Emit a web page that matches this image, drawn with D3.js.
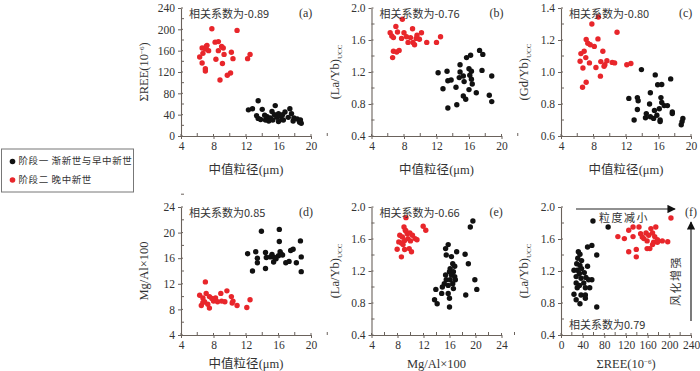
<!DOCTYPE html>
<html>
<head>
<meta charset="utf-8">
<script src="https://cdn.jsdelivr.net/npm/d3@7"></script>
<style>
  body { margin: 0; background: #fff; }
  svg { display: block; font-family: "Liberation Serif", "DejaVu Serif", serif; }
  .cjk { font-family: "Noto Sans CJK SC", sans-serif; }
</style>
</head>
<body>
<div id="chart"></div>
<script>
// ---- data ----
// (a) grain size (um) vs sum REE
var aRed = [[7.8,201],[10.9,198],[8.2,176],[8.6,177],[6.6,165],[7.2,170],[7.0,163],[7.4,160],[9.0,168],[9.2,165],
  [8.6,160],[6.3,148],[6.7,155],[9.3,153],[10.2,157],[8.3,144],[10.4,145],[12.5,153],[12.2,145],[6.6,137],
  [9.1,136],[7.0,126],[7.0,122],[10.1,118],[9.7,114],[8.8,105],[7.1,168]];
var aBlack = [[12.3,49],[12.8,51],[13.5,66],[14.0,50],[13.3,38],[13.5,33],[14.4,30],[14.6,36],[15.0,34],[14.8,28],
  [15.2,46],[15.6,57],[15.5,40],[15.8,35],[16.0,42],[16.2,38],[16.4,31],[16.0,27],[16.6,30],[16.8,45],
  [17.4,51],[17.6,42],[17.8,28],[17.9,34],[18.3,32],[18.6,26],[18.7,30],[18.8,24],[15.3,30],[16.5,40],
  [14.3,39],[13.8,31],[17.2,35]];
// (b) grain size vs (La/Yb)ucc
var bRed = [[7.8,1.86],[7.0,1.77],[6.3,1.69],[6.5,1.65],[7.2,1.70],[8.0,1.69],[9.05,1.74],[10.15,1.69],[8.3,1.64],
  [9.5,1.62],[9.9,1.61],[8.5,1.57],[9.1,1.57],[9.3,1.54],[10.8,1.57],[12.0,1.57],[12.5,1.64],[6.6,1.38],
  [6.7,1.46],[7.1,1.45],[7.4,1.47],[7.7,1.62],[8.8,1.63],[6.7,1.63],[9.6,1.66]];
var bBlack = [[12.2,1.19],[13.3,1.21],[13.4,1.09],[13.8,1.10],[12.8,0.99],[14.4,1.01],[13.4,0.75],[14.5,0.79],
  [14.9,1.29],[14.9,1.20],[14.8,1.13],[15.3,1.15],[15.4,1.08],[15.3,0.90],[15.6,0.86],[15.7,1.38],[16.2,1.41],
  [16.0,1.24],[16.3,1.21],[16.1,1.16],[16.3,1.11],[16.4,1.05],[16.0,0.98],[16.9,0.94],[17.3,1.47],[17.7,1.42],
  [17.6,1.22],[18.8,1.15],[18.5,0.91],[18.8,0.83]];
// (c) grain size vs (Gd/Yb)ucc
var cRed = [[8.6,1.344],[7.8,1.30],[10.9,1.248],[8.55,1.207],[7.1,1.203],[7.3,1.18],[7.6,1.17],[8.1,1.16],[6.85,1.13],
  [9.15,1.13],[6.45,1.115],[7.05,1.09],[6.35,1.067],[7.5,1.057],[8.9,1.065],[9.65,1.07],[10.3,1.06],[10.6,1.057],
  [9.3,1.036],[8.3,1.028],[6.7,1.025],[12.1,1.045],[12.6,1.053],[8.85,0.974],[7.1,0.936],[6.65,0.905],[9.4,1.045]];
var cBlack = [[13.9,1.015],[15.6,0.982],[16.4,0.922],[15.9,0.92],[17.5,0.957],[12.35,0.835],[13.4,0.84],[13.5,0.82],
  [13.4,0.766],[13.0,0.70],[15.0,0.87],[14.9,0.80],[16.3,0.84],[16.4,0.81],[16.7,0.79],[17.1,0.79],[14.5,0.74],
  [14.4,0.714],[15.0,0.72],[15.4,0.71],[15.5,0.76],[15.8,0.73],[16.1,0.77],[16.2,0.70],[16.2,0.69],[17.7,0.75],
  [17.7,0.74],[19.0,0.71],[18.9,0.69],[18.8,0.67]];
// (d) grain size vs Mg/Al x100
var dRed = [[7.0,12.3],[6.3,10.2],[8.9,10.5],[9.65,10.9],[7.1,10.5],[6.7,9.8],[7.5,10.0],[6.5,8.6],[6.9,9.2],
  [7.3,8.8],[7.5,8.2],[8.25,9.8],[8.0,9.3],[8.5,9.2],[9.0,9.3],[9.4,9.2],[10.2,10.0],[10.4,9.3],[10.3,9.0],
  [10.9,8.6],[12.1,8.3],[12.5,9.5],[7.8,9.7],[6.7,9.1]];
var dBlack = [[13.9,20.2],[16.1,20.5],[16.1,18.6],[18.7,18.7],[12.2,16.7],[13.2,17.0],[13.4,16.0],[13.4,15.3],
  [12.8,14.0],[14.4,16.9],[14.5,16.1],[14.4,14.4],[15.0,16.2],[15.2,16.6],[15.4,15.4],[15.7,15.9],[16.0,16.4],
  [16.2,17.0],[16.3,16.7],[16.5,16.5],[16.9,15.3],[17.3,15.5],[17.5,17.2],[17.8,17.4],[18.2,15.3],[18.8,16.2],
  [18.8,13.9],[15.5,16.1]];
// (e) Mg/Al x100 vs (La/Yb)ucc
var eRed = [[9.3,1.867],[9.0,1.75],[9.2,1.71],[11.95,1.76],[12.35,1.71],[8.35,1.647],[9.5,1.667],[9.9,1.675],
  [10.3,1.647],[10.7,1.605],[8.75,1.625],[8.2,1.564],[8.6,1.55],[9.6,1.605],[10.0,1.576],[11.0,1.59],[9.1,1.58],
  [7.95,1.472],[9.1,1.468],[9.8,1.48],[10.15,1.44],[8.6,1.377],[8.85,1.53],[9.3,1.70]];
var eBlack = [[19.6,1.825],[19.2,1.75],[15.8,1.53],[15.4,1.48],[17.1,1.44],[15.5,1.40],[16.3,1.38],[18.4,1.41],
  [18.9,1.29],[16.5,1.29],[16.8,1.26],[16.1,1.23],[16.0,1.19],[16.6,1.19],[15.4,1.15],[16.3,1.15],[16.8,1.13],
  [15.5,1.09],[16.1,1.09],[16.9,1.09],[15.8,1.02],[16.5,1.04],[14.9,1.0],[13.9,0.97],[14.8,0.92],[15.8,0.92],
  [16.0,0.86],[13.7,0.84],[14.1,0.79],[16.0,0.75],[19.9,1.09],[20.2,0.97],[18.5,0.90],[16.6,0.98],[15.2,1.04]];
// (f) sum REE vs (La/Yb)ucc
var fRed = [[203,1.863],[133,1.75],[144,1.75],[125,1.71],[166,1.73],[175,1.75],[105,1.63],[117,1.605],[147,1.667],
  [157,1.675],[162,1.647],[169,1.675],[173,1.63],[153,1.605],[178,1.59],[187,1.576],[171,1.56],[159,1.576],
  [197,1.565],[178,1.56],[125,1.44],[139,1.47],[159,1.48],[164,1.48],[169,1.53],[139,1.377],[150,1.625],[133,1.63]];
var fBlack = [[59,1.825],[87,1.75],[57,1.52],[49,1.50],[32,1.44],[35,1.41],[66,1.40],[31,1.36],[38,1.33],[29,1.29],
  [35,1.27],[49,1.26],[24,1.21],[30,1.21],[38,1.23],[43,1.18],[34,1.17],[28,1.13],[37,1.11],[46,1.12],[57,1.09],
  [51,1.09],[28,1.05],[34,1.02],[45,0.99],[53,0.99],[30,0.99],[24,0.91],[37,0.90],[45,0.90],[28,0.84],[45,0.86],
  [35,0.79],[66,0.75],[42,1.05]];

var corrLabels = ["相关系数为-0.89", "相关系数为-0.76", "相关系数为-0.80", "相关系数为0.85", "相关系数为-0.66", "相关系数为0.79"];
var panelTags = ["(a)", "(b)", "(c)", "(d)", "(e)", "(f)"];
var legendLabels = ["阶段一 渐新世与早中新世", "阶段二 晚中新世"];

var red = "#e8262b", black = "#111111", axisCol = "#6a625c", textCol = "#333";

var W = 700, H = 371;
var svg = d3.select("#chart").append("svg").attr("width", W).attr("height", H);

var colX = [181, 371.5, 561], rowY = [8, 207], pw = 130, ph = 128;

var panels = [
  {col:0,row:0, xd:[4,20], xs:4, xm:2, yd:[0,240], ys:40, ym:20, yf:d3.format("d"), xl:"grain", yl:"ree", red:aRed, black:aBlack},
  {col:1,row:0, xd:[4,20], xs:4, xm:2, yd:[0.4,2.0], ys:0.4, ym:0.2, yf:d3.format(".1f"), xl:"grain", yl:"layb", red:bRed, black:bBlack},
  {col:2,row:0, xd:[4,20], xs:4, xm:2, yd:[0.6,1.4], ys:0.2, ym:0.1, yf:d3.format(".1f"), xl:"grain", yl:"gdyb", red:cRed, black:cBlack},
  {col:0,row:1, xd:[4,20], xs:4, xm:2, yd:[4,24], ys:4, ym:2, yf:d3.format("d"), xl:"grain", yl:"mgal", red:dRed, black:dBlack},
  {col:1,row:1, xd:[4,24], xs:4, xm:2, yd:[0.4,2.0], ys:0.4, ym:0.2, yf:d3.format(".1f"), xl:"mgal", yl:"layb", red:eRed, black:eBlack},
  {col:2,row:1, xd:[0,240], xs:40, xm:20, yd:[0.4,2.0], ys:0.4, ym:0.2, yf:d3.format(".1f"), xl:"ree", yl:"layb", red:fRed, black:fBlack}
];

function steps(lo, hi, st) {
  var n = Math.round((hi - lo) / st), out = [];
  for (var i = 0; i <= n; i++) out.push(+(lo + i * st).toFixed(4));
  return out;
}

// axis title writer (handles sub/superscripts)
function writeLabel(t, kind) {
  if (kind == "grain") {
    t.append("tspan").attr("class", "cjk").text("中值粒径");
    t.append("tspan").text("(μm)");
  } else if (kind == "ree") {
    t.append("tspan").text("ΣREE(10");
    t.append("tspan").attr("font-size", "7px").attr("dy", "-4").text("−6");
    t.append("tspan").attr("dy", "4").text(")");
  } else if (kind == "layb" || kind == "gdyb") {
    t.append("tspan").text(kind == "layb" ? "(La/Yb)" : "(Gd/Yb)");
    t.append("tspan").attr("font-size", "7px").attr("dy", "3").text("UCC");
  } else if (kind == "mgal") {
    t.append("tspan").text("Mg/Al×100");
  }
}

panels.forEach(function(p, i) {
  var x0 = colX[p.col], y0 = rowY[p.row];
  var g = svg.append("g").attr("transform", "translate(" + x0 + "," + y0 + ")");
  var x = d3.scaleLinear().domain(p.xd).range([0, pw]);
  var y = d3.scaleLinear().domain(p.yd).range([ph, 0]);

  // x axis
  var gx = g.append("g").attr("transform", "translate(0," + ph + ")")
    .call(d3.axisBottom(x).tickValues(steps(p.xd[0], p.xd[1], p.xs)).tickSizeInner(3).tickSizeOuter(0).tickPadding(3));
  // y axis
  var gy = g.append("g")
    .call(d3.axisLeft(y).tickValues(steps(p.yd[0], p.yd[1], p.ys)).tickFormat(p.yf).tickSizeInner(3).tickSizeOuter(0).tickPadding(3));
  [gx, gy].forEach(function(a) {
    a.select(".domain").attr("stroke", axisCol).attr("stroke-width", 1.1);
    a.selectAll(".tick line").attr("stroke", axisCol);
    a.selectAll(".tick text").attr("fill", textCol).attr("font-size", "11.5px")
      .attr("font-family", "Liberation Serif, serif");
  });
  // major ticks poke slightly inside, minor ticks inside only
  g.selectAll(".majx").data(steps(p.xd[0], p.xd[1], p.xs)).enter().append("line")
    .attr("x1", d => x(d)).attr("x2", d => x(d)).attr("y1", ph).attr("y2", ph - 2).attr("stroke", axisCol);
  g.selectAll(".majy").data(steps(p.yd[0], p.yd[1], p.ys)).enter().append("line")
    .attr("y1", d => y(d)).attr("y2", d => y(d)).attr("x1", 0).attr("x2", 2).attr("stroke", axisCol);
  g.selectAll(".minx").data(steps(p.xd[0] + p.xm, p.xd[1], p.xs)).enter().append("line")
    .attr("x1", d => x(d)).attr("x2", d => x(d)).attr("y1", ph).attr("y2", ph - 3).attr("stroke", axisCol);
  g.selectAll(".miny").data(steps(p.yd[0] + p.ym, p.yd[1], p.ys)).enter().append("line")
    .attr("y1", d => y(d)).attr("y2", d => y(d)).attr("x1", 0).attr("x2", 3).attr("stroke", axisCol);

  // axis titles
  var xt = g.append("text").attr("x", pw / 2).attr("y", p.row == 0 ? ph + 38 : ph + 33)
    .attr("text-anchor", "middle").attr("font-size", "12.5px").attr("fill", textCol);
  writeLabel(xt, p.xl);
  var yt = g.append("text").attr("transform", "translate(-33," + (ph / 2) + ") rotate(-90)")
    .attr("text-anchor", "middle").attr("font-size", "12.5px").attr("fill", textCol);
  writeLabel(yt, p.yl);

  // points
  g.selectAll(".pb").data(p.black).enter().append("circle")
    .attr("cx", d => x(d[0])).attr("cy", d => y(d[1])).attr("r", 2.7).attr("fill", black);
  g.selectAll(".pr").data(p.red).enter().append("circle")
    .attr("cx", d => x(d[0])).attr("cy", d => y(d[1])).attr("r", 2.7).attr("fill", red);

  // correlation note and tag
  var isF = i == 5;
  g.append("text").attr("class", "cjk")
    .attr("x", 8).attr("y", isF ? ph - 9 : 7)
    .attr("dominant-baseline", "middle").attr("font-size", "11px").attr("fill", textCol)
    .text(corrLabels[i]);
  g.append("text")
    .attr("x", isF ? pw - 6 : pw - 12).attr("y", 6)
    .attr("dominant-baseline", "middle").attr("font-size", "12px").attr("fill", textCol)
    .text(panelTags[i]);

  if (isF) {
    var defs = svg.append("defs");
    defs.append("marker").attr("id", "ah").attr("viewBox", "0 0 10 10").attr("refX", 9).attr("refY", 5)
      .attr("markerWidth", 7).attr("markerHeight", 7).attr("orient", "auto")
      .append("path").attr("d", "M0,0 L10,5 L0,10 z").attr("fill", "#111");
    g.append("line").attr("x1", 15).attr("x2", 114).attr("y1", 2).attr("y2", 2)
      .attr("stroke", "#222").attr("stroke-width", 1.2).attr("marker-end", "url(#ah)");
    g.append("text").attr("class", "cjk").attr("x", 63).attr("y", 12)
      .attr("text-anchor", "middle").attr("dominant-baseline", "middle")
      .attr("font-size", "11px").attr("letter-spacing", "1.5px").attr("fill", textCol).text("粒度减小");
    g.append("line").attr("x1", 130).attr("x2", 130).attr("y1", 114).attr("y2", 15)
      .attr("stroke", "#222").attr("stroke-width", 1.2).attr("marker-end", "url(#ah)");
    g.append("text").attr("class", "cjk")
      .attr("transform", "translate(116,74) rotate(-90)")
      .attr("text-anchor", "middle").attr("dominant-baseline", "middle")
      .attr("font-size", "11px").attr("letter-spacing", "1.5px").attr("fill", textCol).text("风化增强");
  }
});

// legend
var lg = svg.append("g").attr("transform", "translate(1.5,149)");
lg.append("rect").attr("width", 132).attr("height", 43).attr("fill", "#fff")
  .attr("stroke", "#777").attr("stroke-width", 1);
[black, red].forEach(function(c, k) {
  lg.append("circle").attr("cx", 11).attr("cy", 12.5 + k * 18.5).attr("r", 2.8).attr("fill", c);
  lg.append("text").attr("class", "cjk").attr("x", 17).attr("y", 12.5 + k * 18.5)
    .attr("dominant-baseline", "middle").attr("font-size", "9.5px").attr("letter-spacing", "0.6px")
    .attr("fill", textCol).text(legendLabels[k]);
});
</script>
</body>
</html>
